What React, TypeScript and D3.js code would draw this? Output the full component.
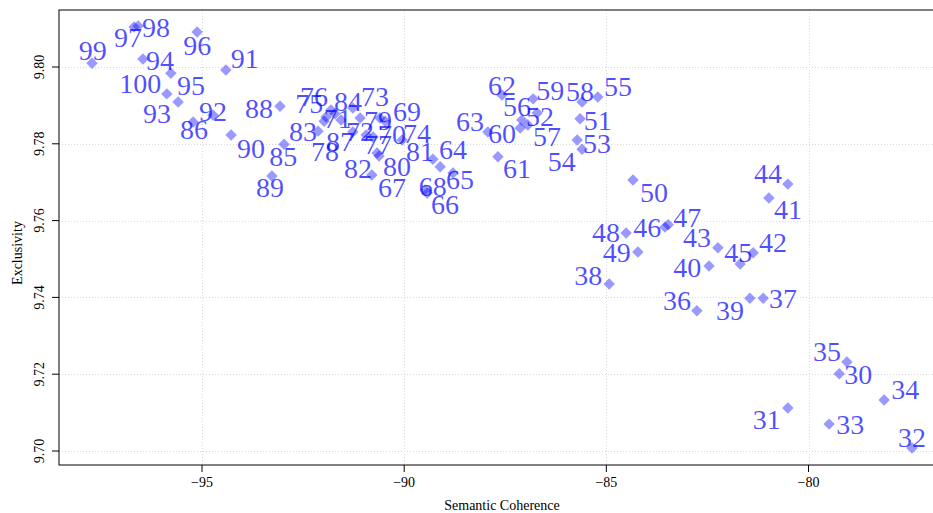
import React from "react";
import * as d3 from "d3";

const topics = [30,31,32,33,34,35,36,37,38,39,40,41,42,43,44,45,46,47,48,49,50,51,52,53,54,55,56,57,58,59,60,61,62,63,64,65,66,67,68,69,70,71,72,73,74,75,76,77,78,79,80,81,82,83,84,85,86,87,88,89,90,91,92,93,94,95,96,97,98,99,100];

const semcoh = [-79.24,-80.51,-77.44,-79.49,-78.13,-79.05,-82.76,-81.12,-84.93,-81.45,-82.46,-80.98,-81.37,-82.24,-80.51,-81.69,-83.55,-83.47,-84.51,-84.22,-84.34,-85.65,-86.71,-85.60,-85.72,-85.21,-87.09,-86.94,-85.60,-86.81,-87.13,-87.68,-87.58,-87.93,-89.11,-88.79,-89.43,-90.67,-89.48,-90.60,-90.77,-91.56,-91.27,-91.09,-90.05,-91.93,-91.81,-90.94,-91.71,-90.47,-90.62,-89.29,-90.80,-92.13,-91.27,-92.97,-95.22,-91.98,-93.07,-93.27,-94.28,-94.41,-94.73,-95.59,-96.46,-95.77,-95.12,-96.68,-96.58,-97.72,-95.87];

const exclusivity = [9.7201,9.7112,9.7008,9.7070,9.7133,9.7232,9.7365,9.7398,9.7435,9.7398,9.7482,9.7659,9.7516,9.7529,9.7695,9.7487,9.7583,9.7589,9.7568,9.7518,9.7706,9.7865,9.7880,9.7786,9.7810,9.7922,9.7862,9.7849,9.7909,9.7917,9.7841,9.7766,9.7927,9.7831,9.7740,9.7724,9.7672,9.7776,9.7680,9.7867,9.7818,9.7862,9.7831,9.7867,9.7810,9.7870,9.7888,9.7823,9.7878,9.7859,9.7768,9.7760,9.7719,9.7833,9.7893,9.7799,9.7857,9.7859,9.7898,9.7716,9.7823,9.7992,9.7875,9.7909,9.8021,9.7984,9.8091,9.8104,9.8107,9.8010,9.7930];

const labelX = [-78.77,-81.03,-77.44,-78.97,-77.61,-79.54,-83.25,-80.63,-85.45,-81.94,-83.00,-80.51,-80.88,-82.76,-81.00,-81.74,-83.99,-83.00,-85.01,-84.74,-83.82,-85.21,-86.64,-85.23,-86.10,-84.71,-87.21,-86.47,-85.65,-86.39,-87.58,-87.21,-87.58,-88.37,-88.79,-88.62,-88.99,-90.30,-89.29,-89.93,-90.30,-91.64,-91.09,-90.72,-89.68,-92.35,-92.23,-90.65,-91.96,-90.65,-90.18,-89.61,-91.14,-92.50,-91.39,-92.99,-95.20,-91.59,-93.59,-93.32,-93.79,-93.94,-94.73,-96.11,-96.04,-95.27,-95.12,-96.83,-96.14,-97.70,-96.53];

const labelY = [9.7198,9.7081,9.7034,9.7068,9.7159,9.7258,9.7393,9.7398,9.7458,9.7367,9.7479,9.7628,9.7542,9.7557,9.7724,9.7516,9.7583,9.7609,9.7568,9.7516,9.7672,9.7862,9.7870,9.7802,9.7753,9.7948,9.7896,9.7818,9.7935,9.7940,9.7828,9.7737,9.7953,9.7857,9.7784,9.7706,9.7641,9.7685,9.7688,9.7883,9.7823,9.7867,9.7831,9.7924,9.7828,9.7906,9.7922,9.7797,9.7779,9.7862,9.7740,9.7779,9.7737,9.7831,9.7909,9.7766,9.7836,9.7805,9.7893,9.7685,9.7789,9.8023,9.7885,9.7878,9.8018,9.7953,9.8057,9.8076,9.8102,9.8042,9.7956];

const xTicks = [-95, -90, -85, -80];
const yTicks = [9.70, 9.72, 9.74, 9.76, 9.78, 9.80];

const W = 933;
const H = 513;
const plotLeft = 59;
const plotTop = 10;
const plotBottom = 465;
const plotRight = 940;

const x = d3.scaleLinear().domain([-95, -80]).range([202, 808.5]);
const y = d3.scaleLinear().domain([9.70, 9.80]).range([451, 67]);

const diamond = d3.symbol().type(d3.symbolSquare).size(66)();
const fmtX = (v: number) => (v < 0 ? "\u2212" + Math.abs(v) : String(v));
const fmtY = d3.format(".2f");
const FONT = "'Liberation Serif', 'Times New Roman', serif";

export default function App() {
  return (
    <svg
      width={W}
      height={H}
      style={{ position: "absolute", left: 0, top: 0, display: "block", background: "#fff" }}
      fontFamily={FONT}
    >
      <rect x={0} y={0} width={W} height={H} fill="#fff" />
      {/* grid */}
      <g stroke="#d9d9d9" strokeWidth={1} strokeDasharray="1,2">
        {xTicks.map((t) => (
          <line key={"gx" + t} x1={Math.round(x(t)) + 0.5} x2={Math.round(x(t)) + 0.5} y1={plotTop} y2={plotBottom} />
        ))}
        {yTicks.map((t) => (
          <line key={"gy" + t} x1={plotLeft} x2={plotRight} y1={Math.round(y(t)) + 0.5} y2={Math.round(y(t)) + 0.5} />
        ))}
      </g>
      {/* box */}
      <rect x={plotLeft} y={plotTop} width={plotRight - plotLeft} height={plotBottom - plotTop} fill="none" stroke="#000" strokeWidth={1} />
      {/* y axis ticks */}
      <g>
        {yTicks.map((t) => (
          <g key={"ty" + t}>
            <line x1={plotLeft - 7} x2={plotLeft} y1={y(t)} y2={y(t)} stroke="#000" strokeWidth={1} />
            <text
              transform={`translate(${plotLeft - 15},${y(t)}) rotate(-90)`}
              textAnchor="middle"
              fontSize={14}
              fill="#000"
            >
              {fmtY(t)}
            </text>
          </g>
        ))}
      </g>
      {/* x axis ticks */}
      <g>
        {xTicks.map((t) => (
          <g key={"tx" + t}>
            <line x1={x(t)} x2={x(t)} y1={plotBottom} y2={plotBottom + 7} stroke="#000" strokeWidth={1} />
            <text x={x(t)} y={487} textAnchor="middle" fontSize={14} fill="#000">
              {fmtX(t)}
            </text>
          </g>
        ))}
      </g>
      <text x={502} y={510} textAnchor="middle" fontSize={14} fill="#000">
        Semantic Coherence
      </text>
      <text transform={`translate(22,253) rotate(-90)`} textAnchor="middle" fontSize={14} fill="#000">
        Exclusivity
      </text>
      {/* points */}
      <g fill="blue" fillOpacity={0.4}>
        {topics.map((tp, i) => (
          <path key={"p" + tp} d={diamond} transform={`translate(${x(semcoh[i])},${y(exclusivity[i])}) rotate(45)`} />
        ))}
      </g>
      {/* labels */}
      <g fill="blue" fillOpacity={0.7} fontSize={28} textAnchor="middle">
        {topics.map((tp, i) => (
          <text key={"l" + tp} x={x(labelX[i])} y={y(labelY[i])} dy="0.34em">
            {tp}
          </text>
        ))}
      </g>
    </svg>
  );
}
